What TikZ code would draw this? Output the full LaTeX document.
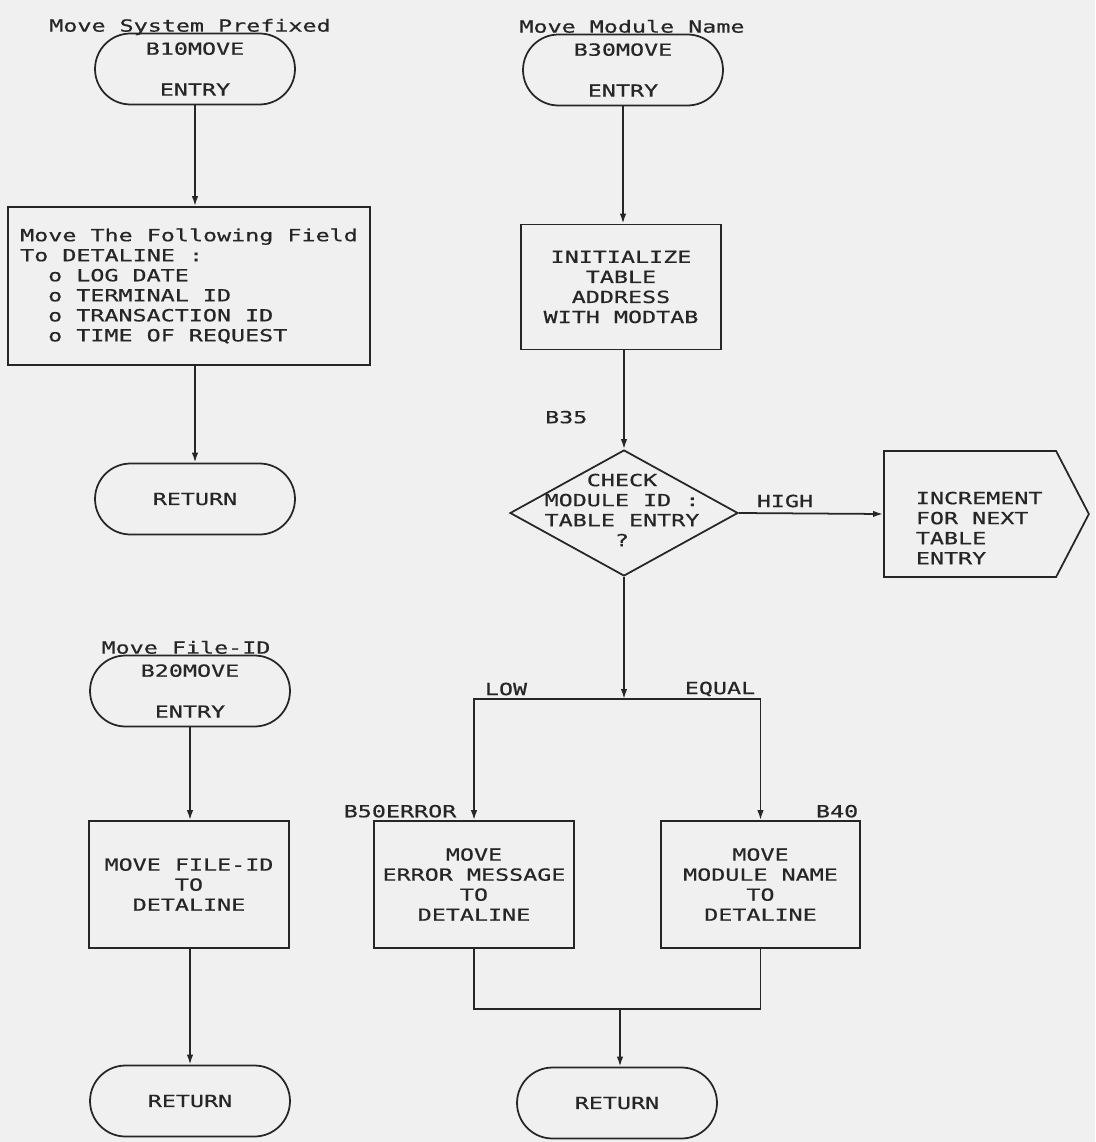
\documentclass[tikz,border=0pt]{standalone}
\usepackage{fontspec}
\newfontfamily\plotfont[FakeStretch=1.4, FakeBold=0.6]{DejaVu Sans Mono}
\usetikzlibrary{positioning,arrows.meta,shapes.misc,shapes.geometric,shapes.symbols}
\tikzset{
  flowarrow/.style={-{Latex[length=2mm,width=1.3mm]}},
  termbox/.style={draw, rounded rectangle, minimum width=4cm, minimum height=1.42cm, inner sep=0pt, align=center},
  procbox/.style={draw, minimum width=4cm, minimum height=2.54cm, align=center},
  decision/.style={draw, diamond, minimum width=4.56cm, minimum height=2.52cm, inner sep=0pt},
  pointbox/.style={draw, signal, signal to=east, signal pointer angle=125, minimum width=4.1cm, minimum height=2.52cm, inner sep=0pt},
  plain/.style={inner sep=0pt, align=center},
  tag/.style={inner sep=1pt}
}

\begin{document}
\begin{tikzpicture}[x=0.02cm, y=-0.02cm, line width=1pt, color=black!85, >=Latex,
  every node/.style={font=\plotfont\fontsize{9.5}{11.4}\selectfont}]
  \path[use as bounding box, fill=black!6] (0,0) rectangle (1095,1142);

  \node[termbox] (b10) at (195,69) {B10MOVE\\[11.9pt]ENTRY};
  \node[tag, anchor=base] (b10cap) at ([xshift=-0.1cm, yshift=0.02cm]b10.north) {Move System Prefixed};
  \node[procbox, minimum width=7.24cm, minimum height=3.16cm, align=left] (fields) at (189,286)
    {Move The Following Field\\To DETALINE :\\\hspace*{0.56cm}o LOG DATE\\\hspace*{0.56cm}o TERMINAL ID\\\hspace*{0.56cm}o TRANSACTION ID\\\hspace*{0.56cm}o TIME OF REQUEST};
  \node[termbox] (ret1) at (195,499) {RETURN};
  \draw[flowarrow] (b10.south) -- (b10.south |- fields.north);
  \draw[flowarrow] (fields.south -| ret1.north) -- (ret1.north);

  \node[termbox] (b20) at (190,691) {B20MOVE\\[11.9pt]ENTRY};
  \node[tag, anchor=base] (b20cap) at ([xshift=-0.08cm, yshift=0.02cm]b20.north) {Move File-ID};
  \node[procbox] (fileid) at (189,884.5) {MOVE FILE-ID\\TO\\DETALINE};
  \node[termbox] (ret3) at (190,1101) {RETURN};
  \draw[flowarrow] (b20.south) -- (b20.south |- fileid.north);
  \draw[flowarrow] (fileid.south -| ret3.north) -- (ret3.north);

  \node[termbox] (b30) at (623,70) {B30MOVE\\[11.9pt]ENTRY};
  \node[tag, anchor=base] (b30cap) at ([xshift=0.18cm, yshift=0.02cm]b30.north) {Move Module Name};
  \node[procbox, minimum height=2.5cm] (init) at (621,287) {INITIALIZE\\TABLE\\ADDRESS\\WITH MODTAB};
  \node[decision] (chk) at (624,513) {};
  \node[plain] (chktxt) at (622,510) {CHECK\\MODULE ID :\\TABLE ENTRY\\?};
  \node[tag, anchor=east] (b35) at ([xshift=-0.68cm, yshift=0.64cm]chk.north) {B35};
  \node[pointbox] (incr) at (970,514) {};
  \node[plain, align=left, anchor=west] (incrtxt) at ([xshift=0.64cm, yshift=-0.28cm]incr.west) {INCREMENT\\FOR NEXT\\TABLE\\ENTRY};
  \node[tag] (high) at (785,501) {HIGH};
  \draw[flowarrow] (b30.south) -- (b30.south |- init.north);
  \draw[flowarrow] (chk.north |- init.south) -- (chk.north);
  \draw[flowarrow] (chk.east) -- (incr.west);

  \coordinate (split) at (624,699);
  \node[procbox] (err) at (474,884.5) {MOVE\\ERROR MESSAGE\\TO\\DETALINE};
  \node[procbox, minimum width=3.98cm] (mname) at (760.5,884.5) {MOVE\\MODULE NAME\\TO\\DETALINE};
  \node[tag, anchor=south west] (b50) at ([xshift=-0.64cm]err.north west) {B50ERROR};
  \node[tag, anchor=south east] (b40) at (mname.north east) {B40};
  \node[tag] (low) at (506,689) {LOW};
  \node[tag] (equal) at (720,689) {EQUAL};
  \draw[flowarrow] (chk.south) -- (split);
  \draw[flowarrow] (split) -| (err.north);
  \draw[flowarrow] (split) -| (mname.north);

  \coordinate (merge) at (620,1009);
  \node[termbox] (ret2) at (617,1103) {RETURN};
  \draw (err.south) |- (merge) -| (mname.south);
  \draw[flowarrow] (merge) -- (merge |- ret2.north);
\end{tikzpicture}
\end{document}
